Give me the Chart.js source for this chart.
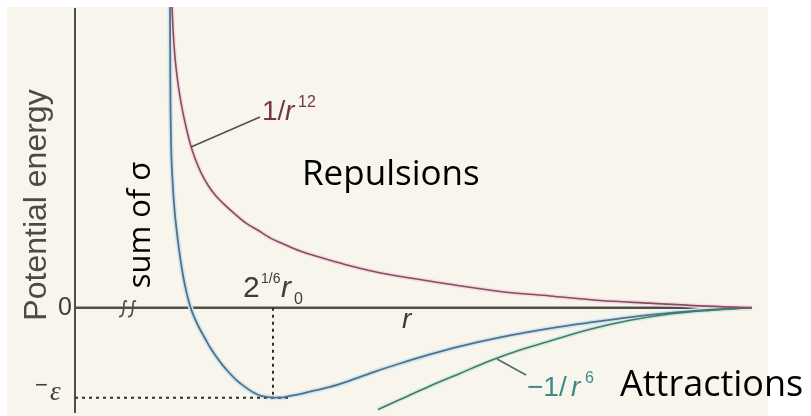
<!DOCTYPE html>
<html>
<head>
<meta charset="utf-8">
<script src="https://cdn.jsdelivr.net/npm/chart.js"></script>
<style>
  html, body { margin: 0; padding: 0; background: #fff; }
  canvas { display: block; }
</style>
</head>
<body>
<canvas id="ljChart" width="811" height="416"></canvas>
<script>
// Lennard-Jones style sketch: r on x, potential energy (in units of epsilon) on y
const sumR = [0.95, 0.953, 0.96, 0.975, 0.995, 1.025, 1.055, 1.085, 1.115, 1.15, 1.19, 1.24, 1.30, 1.35, 1.41, 1.47, 1.54, 1.62, 1.70, 1.78, 1.86, 1.92, 1.98,
              2.06, 2.15, 2.25, 2.40, 2.55, 2.75, 3.00, 3.25, 3.55, 3.85, 4.25, 4.75, 5.25, 5.75, 6.25, 6.77];
const sumE = [3.34, 2.53, 1.87, 1.42, 1.09, 0.78, 0.53, 0.33, 0.17, 0.02, -0.10, -0.22, -0.34, -0.44, -0.54, -0.63, -0.72, -0.81, -0.88, -0.94, -0.98, -0.99, -1.00,
              -1.00, -0.98, -0.96, -0.92, -0.88, -0.81, -0.71, -0.62, -0.52, -0.43, -0.33, -0.23, -0.15, -0.08, -0.03, 0];

const repR = [0.97, 0.98, 1.00, 1.03, 1.07, 1.11, 1.15, 1.20, 1.26, 1.33, 1.41, 1.50, 1.60, 1.71, 1.83, 1.96, 2.10, 2.25, 2.45, 2.70, 3.00, 3.35, 3.75, 4.25, 4.75, 5.25, 5.75, 6.25, 6.77];
const repE = [3.34, 3.09, 2.78, 2.49, 2.22, 2.01, 1.83, 1.66, 1.50, 1.36, 1.24, 1.14, 1.04, 0.94, 0.86, 0.77, 0.70, 0.63, 0.56, 0.48, 0.40, 0.33, 0.26, 0.18, 0.13, 0.08, 0.05, 0.02, 0];

const attR = [3.03, 3.25, 3.55, 3.85, 4.15, 4.45, 4.75, 5.15, 5.55, 5.95, 6.35, 6.77];
const attE = [-1.13, -1.02, -0.87, -0.73, -0.59, -0.47, -0.37, -0.24, -0.14, -0.07, -0.03, 0];

const rMin = 1.98;        // 2^(1/6) r0
const wellDepth = -1;     // -epsilon
const wellDotEnd = 2.15;  // where the dotted -epsilon guide stops
const rEnd = 6.77;        // right end of the r axis line
const xRange = [0, 6.93];
const yRange = [-1.17, 3.34];

const toPts = (xs, ys) => xs.map((x, i) => ({ x, y: ys[i] }));

function text(ctx, s, x, y, font, color, align) {
  ctx.font = font;
  ctx.fillStyle = color;
  ctx.textAlign = align || 'left';
  ctx.textBaseline = 'alphabetic';
  ctx.fillText(s, x, y);
}

function vtext(ctx, s, x, y, font, color) {
  ctx.save();
  ctx.translate(x, y);
  ctx.rotate(-Math.PI / 2);
  text(ctx, s, 0, 0, font, color, 'center');
  ctx.restore();
}

// cream panel behind the drawing
const backdrop = {
  id: 'backdrop',
  beforeDraw(chart) {
    const c = chart.ctx;
    c.save();
    c.fillStyle = '#f8f6ec';
    c.fillRect(7, 7, 761, 409);
    c.restore();
  }
};

// axis lines, break mark and all labels
const sketch = {
  id: 'sketch',
  beforeDatasetsDraw(chart) {
    const c = chart.ctx, xs = chart.scales.x, ys = chart.scales.y;
    const x0 = xs.getPixelForValue(0), y0 = ys.getPixelForValue(0);
    c.save();
    c.strokeStyle = '#4e4e4a';
    c.lineWidth = 2;
    c.beginPath();
    c.moveTo(x0, 8);
    c.lineTo(x0, 413);
    c.stroke();
    c.lineWidth = 2.5;
    c.beginPath();
    c.moveTo(x0, y0);
    c.lineTo(xs.getPixelForValue(rEnd), y0);
    c.stroke();

    // axis break squiggles
    c.lineWidth = 1.7;
    c.strokeStyle = '#4e4e4a';
    [119, 128].forEach(bx => {
      c.beginPath();
      c.moveTo(bx + 8, y0 - 6);
      c.bezierCurveTo(bx + 2, y0 - 11, bx + 8, y0 + 10, bx, y0 + 9);
      c.stroke();
    });
    c.restore();
  },
  afterDatasetsDraw(chart) {
    const c = chart.ctx;
    c.save();
    const grey = '#3c3c3a';

    vtext(c, 'Potential energy', 46, 205, '32px "Liberation Sans"', '#4a4a48');
    vtext(c, 'sum of σ', 150, 225, '31px "Open Sans"', '#000');

    text(c, '0', 72, 315, '25px "Liberation Sans"', grey, 'right');
    text(c, '−', 35, 392, '22px "Liberation Sans"', grey);
    text(c, 'ε', 50, 400, 'italic 27px "Liberation Serif"', grey);

    text(c, '2', 243, 297, '30px "Liberation Sans"', grey);
    text(c, '1/6', 261, 283, '14px "Liberation Sans"', grey);
    text(c, 'r', 281, 297, 'italic 30px "Liberation Sans"', grey);
    text(c, '0', 294, 304, '16px "Liberation Sans"', grey);

    text(c, 'r', 402, 328, 'italic 28px "Liberation Sans"', grey);

    // 1/r^12 label with leader
    c.strokeStyle = '#5a4a4e';
    c.lineWidth = 1.5;
    c.beginPath();
    c.moveTo(191, 147);
    c.lineTo(260, 117);
    c.stroke();
    const maroon = '#76344c';
    text(c, '1/', 262, 120, '28px "Liberation Sans"', maroon);
    text(c, 'r', 285, 120, 'italic 28px "Liberation Sans"', maroon);
    text(c, '12', 298, 107, '16px "Liberation Sans"', maroon);

    // -1/r^6 label with leader
    c.strokeStyle = '#4f6e66';
    c.beginPath();
    c.moveTo(497, 359);
    c.lineTo(526, 375);
    c.stroke();
    const teal = '#3c8a8a';
    text(c, '−1/', 527, 396, '28px "Liberation Sans"', teal);
    text(c, 'r', 571, 396, 'italic 28px "Liberation Sans"', teal);
    text(c, '6', 585, 383, '16px "Liberation Sans"', teal);

    text(c, 'Repulsions', 302, 185, '35px "Open Sans"', '#000');
    text(c, 'Attractions', 620, 396, '36px "Open Sans"', '#000');
    c.restore();
  }
};

const dotted = { borderColor: '#2e2e2e', borderWidth: 2, borderDash: [3, 4], tension: 0, cubicInterpolationMode: 'default', showLine: true };
const curve = (xs, ys, color, width, order) => ({ data: toPts(xs, ys), borderColor: color, borderWidth: width, showLine: true, order });

new Chart(document.getElementById('ljChart').getContext('2d'), {
  type: 'scatter',
  data: {
    datasets: [
      curve(repR, repE, '#8a4b5d', 1.6, 0),
      curve(attR, attE, '#3e7c68', 1.6, 0),
      curve(sumR, sumE, '#51718d', 1.8, 0),
      // soft halos under the curves
      curve(repR, repE, '#f1dde3', 4.5, 1),
      curve(attR, attE, '#d6eae2', 4.5, 1),
      curve(sumR, sumE, '#d2e6ef', 5, 1),
      Object.assign({ data: [{ x: rMin, y: 0 }, { x: rMin, y: wellDepth }], order: 0 }, dotted),
      Object.assign({ data: [{ x: 0, y: wellDepth }, { x: wellDotEnd, y: wellDepth }], order: 0 }, dotted)
    ]
  },
  options: {
    responsive: false,
    animation: false,
    layout: { padding: { left: 75, right: 43, top: 7, bottom: 3 } },
    plugins: { legend: { display: false }, tooltip: { enabled: false } },
    elements: { point: { radius: 0 }, line: { cubicInterpolationMode: 'monotone' } },
    scales: {
      x: { type: 'linear', min: xRange[0], max: xRange[1], display: false },
      y: { type: 'linear', min: yRange[0], max: yRange[1], display: false }
    }
  },
  plugins: [backdrop, sketch]
});
</script>
</body>
</html>
